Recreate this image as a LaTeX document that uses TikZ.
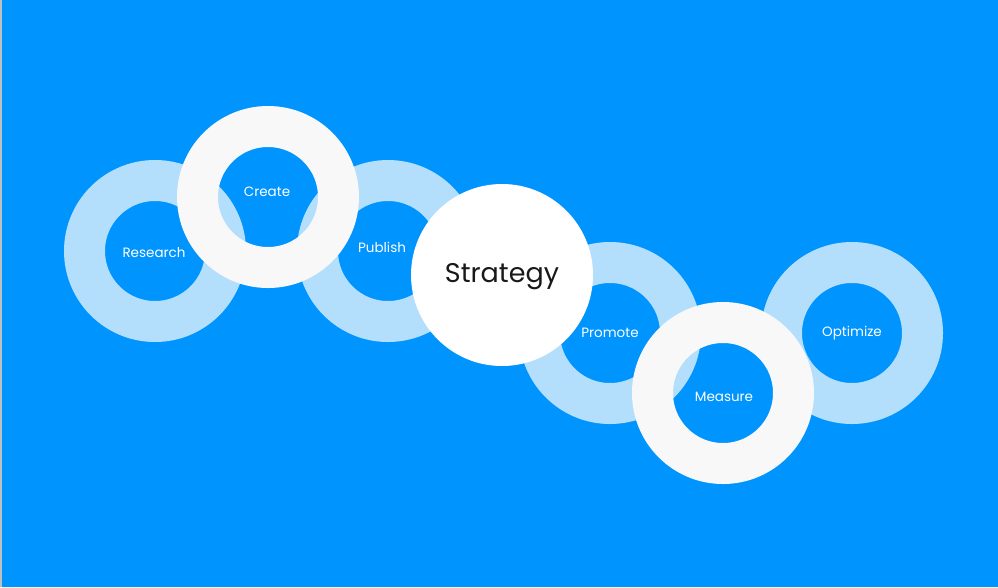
\documentclass[tikz,border=0pt]{standalone}
\usepackage{fontspec}
\setmainfont{Poppins}
\definecolor{bgblue}{RGB}{0,148,255}
\definecolor{paleblue}{RGB}{179,223,252}
\definecolor{offwhite}{RGB}{248,248,248}
\tikzset{
	ring/.style={circle, draw=paleblue, line width=41pt, minimum size=141pt,
		inner sep=0pt},
	whitering/.style={ring, draw=offwhite},
	ringlabel/.style={text=white, inner sep=0pt, font=\fontsize{13.5}{15}\selectfont},
	hub/.style={circle, fill=white, minimum size=182pt, inner sep=0pt},
	hublabel/.style={text=black!90, inner sep=0pt, font=\fontsize{27}{30}\selectfont}
}
\begin{document}
\begin{tikzpicture}[x=1pt, y=-1pt]
	% Background:
	\fill[bgblue] (0, 0) rectangle (998, 587);
	\useasboundingbox (0, 0) rectangle (998, 587);
	\draw[black!25, line width=1.5pt] (0.75, 0) -- (0.75, 587);
	% Rings:
	\node[ring] (research) at (155, 251) {};
	\node[ring] (publish) at (388, 251) {};
	\node[whitering] (create) at (268, 197) {};
	\node[ring] (promote) at (610, 333) {};
	\node[ring] (optimize) at (852, 333) {};
	\node[hub] (strategy) at (502, 275) {};
	\node[whitering] (measure) at (723, 393) {};
	% Labels:
	\node[ringlabel] (researchlbl) at (154, 253) {Research};
	\node[ringlabel] (createlbl) at (267, 192) {Create};
	\node[ringlabel] (publishlbl) at (382, 247) {Publish};
	\node[ringlabel] (promotelbl) at (610, 333) {Promote};
	\node[ringlabel] (measurelbl) at (724, 397) {Measure};
	\node[ringlabel] (optimizelbl) at (852, 333) {Optimize};
	\node[hublabel] (strategylbl) at (502, 277) {Strategy};
\end{tikzpicture}
\end{document}
